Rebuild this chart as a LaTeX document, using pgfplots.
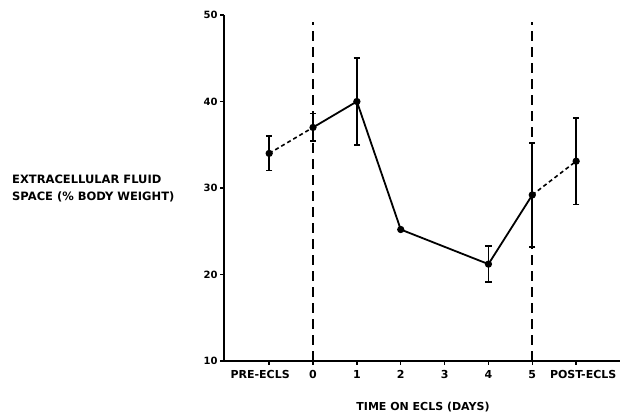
\documentclass[border=0pt]{standalone}
\usepackage{pgfplots}
\pgfplotsset{compat=1.18}
\usepackage{fontspec}
\setmainfont{DejaVu Sans}
\begin{document}
\begin{tikzpicture}
\useasboundingbox (-224pt,-53pt) rectangle (396pt,361pt);
\begin{axis}[
  scale only axis, width=396pt, height=346pt,
  anchor=south west, at={(0,0)},
  xmin=-2.03, xmax=7, ymin=10, ymax=50,
  axis x line=bottom, axis y line=left,
  axis line style={-, line width=1.6pt},
  xtick={-1,0,1,2,3,4,5,6},
  xticklabels={PRE-ECLS\hspace*{18pt},0,1,2,3,4,5,\hspace*{14pt}POST-ECLS},
  ytick={10,20,30,40,50},
  tick align=outside, major tick length=4pt,
  tick style={line width=1.4pt, black},
  /pgf/number format/assume math mode=true,
  tick label style={font=\bfseries\fontsize{11}{12}\selectfont},
  yticklabel style={font=\bfseries\fontsize{10}{11}\selectfont, xshift=1pt},
  xticklabel style={yshift=-2pt},
  clip=false,
]
% vertical dashed lines
\addplot[black, line width=1.6pt, dash pattern=on 10pt off 6pt] coordinates {(0,10) (0,49.2)};
\addplot[black, line width=1.6pt, dash pattern=on 10pt off 6pt] coordinates {(5,10) (5,49.2)};
% connecting lines
\addplot[black, line width=1.6pt, dash pattern=on 4pt off 3pt] coordinates {(-1,34) (0,37)};
\addplot[black, line width=1.8pt] coordinates {(0,37) (1,40) (2,25.2) (4,21.2) (5,29.2)};
\addplot[black, line width=1.6pt, dash pattern=on 4pt off 3pt] coordinates {(5,29.2) (6,33.1)};
% points with error bars
\addplot[black, only marks, mark=*, mark size=3pt, line width=1.2pt,
  error bars/.cd, y dir=both, y explicit,
  error bar style={line width=1.6pt},
  error mark options={rotate=90, mark size=3.2pt, line width=1.6pt}]
  coordinates {
  (-1,34) +- (0,2)
  (0,37) +- (0,1.6)
  (1,40) +- (0,5)
  (2,25.2) +- (0,0)
  (4,21.2) +- (0,2.1)
  (5,29.2) +- (0,6)
  (6,33.1) +- (0,5)
  };
\end{axis}
\node[anchor=west, align=left, font=\bfseries\fontsize{11.5}{17}\selectfont, inner sep=0pt] at (-212pt,173pt) {EXTRACELLULAR FLUID\\SPACE (\% BODY WEIGHT)};
\node[anchor=center, font=\bfseries\fontsize{11}{12}\selectfont, inner sep=0pt] at (199pt,-46pt) {TIME ON ECLS (DAYS)};
\end{tikzpicture}
\end{document}
